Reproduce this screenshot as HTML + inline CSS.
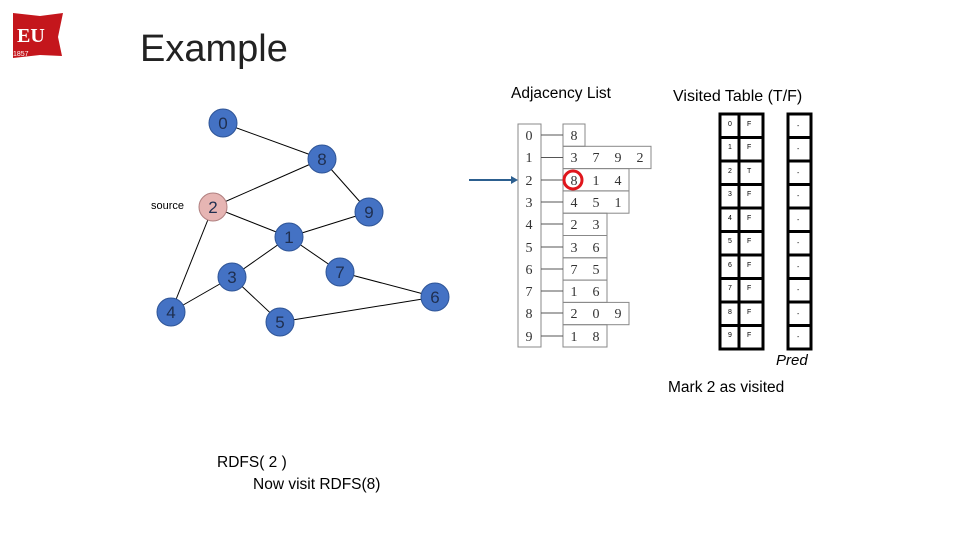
<!DOCTYPE html>
<html><head><meta charset="utf-8"><style>
body{margin:0;width:960px;height:540px;background:#fff;overflow:hidden;font-family:"Liberation Sans",sans-serif}
</style></head><body>
<svg width="960" height="540" viewBox="0 0 960 540" xmlns="http://www.w3.org/2000/svg">
<path d="M13 13 L40 16 L63 13 L58 37 L62 56 L40 55 L13 58 Z" fill="#c4161c"/>
<text x="17" y="42" font-family="Liberation Serif" font-weight="bold" font-size="20" fill="#fff">EU</text>
<text x="13" y="56" font-size="7" fill="#fff">1857</text>
<text x="140" y="61" font-family="Liberation Sans" font-size="38" fill="#222">Example</text>

<g stroke="#000" stroke-width="1">
<line x1="223" y1="123" x2="322" y2="159"/>
<line x1="322" y1="159" x2="213" y2="207"/>
<line x1="322" y1="159" x2="369" y2="212"/>
<line x1="213" y1="207" x2="289" y2="237"/>
<line x1="289" y1="237" x2="369" y2="212"/>
<line x1="213" y1="207" x2="171" y2="312"/>
<line x1="289" y1="237" x2="232" y2="277"/>
<line x1="289" y1="237" x2="340" y2="272"/>
<line x1="340" y1="272" x2="435" y2="297"/>
<line x1="232" y1="277" x2="171" y2="312"/>
<line x1="232" y1="277" x2="280" y2="322"/>
<line x1="280" y1="322" x2="435" y2="297"/>
</g>
<g stroke="#2f5597" stroke-width="1" fill="#4472c4">
<circle cx="223" cy="123" r="14"/><circle cx="322" cy="159" r="14"/>
<circle cx="369" cy="212" r="14"/><circle cx="289" cy="237" r="14"/>
<circle cx="232" cy="277" r="14"/><circle cx="340" cy="272" r="14"/>
<circle cx="435" cy="297" r="14"/><circle cx="171" cy="312" r="14"/>
<circle cx="280" cy="322" r="14"/>
<circle cx="213" cy="207" r="14" fill="#e6b5b3" stroke="#b08080"/>
</g>
<g font-size="17" text-anchor="middle" fill="#1f2f50">
<text x="223" y="129">0</text><text x="322" y="165">8</text><text x="213" y="213">2</text>
<text x="369" y="218">9</text><text x="289" y="243">1</text><text x="232" y="283">3</text>
<text x="340" y="278">7</text><text x="435" y="303">6</text><text x="171" y="318">4</text>
<text x="280" y="328">5</text>
</g>
<text x="151" y="209" font-size="11">source</text>

<text x="511" y="98" font-size="15.5">Adjacency List</text>
<text x="673" y="101" font-size="16">Visited Table (T/F)</text>

<g stroke="#888" stroke-width="1" fill="none">
<rect x="518" y="124" width="23" height="223"/>
<rect x="563" y="124" width="22" height="22.3"/>
<rect x="563" y="146.3" width="88" height="22.3"/>
<rect x="563" y="168.6" width="66" height="22.3"/>
<rect x="563" y="190.9" width="66" height="22.3"/>
<rect x="563" y="213.2" width="44" height="22.3"/>
<rect x="563" y="235.5" width="44" height="22.3"/>
<rect x="563" y="257.8" width="44" height="22.3"/>
<rect x="563" y="280.1" width="44" height="22.3"/>
<rect x="563" y="302.4" width="66" height="22.3"/>
<rect x="563" y="324.7" width="44" height="22.3"/>
</g>
<g stroke="#555" stroke-width="1">
<line x1="541" y1="135" x2="563" y2="135"/><line x1="541" y1="157.5" x2="563" y2="157.5"/>
<line x1="541" y1="180" x2="563" y2="180"/><line x1="541" y1="202" x2="563" y2="202"/>
<line x1="541" y1="224" x2="563" y2="224"/><line x1="541" y1="247" x2="563" y2="247"/>
<line x1="541" y1="269" x2="563" y2="269"/><line x1="541" y1="291" x2="563" y2="291"/>
<line x1="541" y1="313" x2="563" y2="313"/><line x1="541" y1="336" x2="563" y2="336"/>
</g>
<g font-family="Liberation Serif" font-size="14" fill="#333" text-anchor="middle">
<text x="529" y="140">0</text><text x="529" y="162">1</text><text x="529" y="185">2</text>
<text x="529" y="207">3</text><text x="529" y="229">4</text><text x="529" y="252">5</text>
<text x="529" y="274">6</text><text x="529" y="296">7</text><text x="529" y="318">8</text>
<text x="529" y="341">9</text>
<text x="574" y="140">8</text>
<text x="574" y="162">3</text><text x="596" y="162">7</text><text x="618" y="162">9</text><text x="640" y="162">2</text>
<text x="574" y="185">8</text><text x="596" y="185">1</text><text x="618" y="185">4</text>
<text x="574" y="207">4</text><text x="596" y="207">5</text><text x="618" y="207">1</text>
<text x="574" y="229">2</text><text x="596" y="229">3</text>
<text x="574" y="252">3</text><text x="596" y="252">6</text>
<text x="574" y="274">7</text><text x="596" y="274">5</text>
<text x="574" y="296">1</text><text x="596" y="296">6</text>
<text x="574" y="318">2</text><text x="596" y="318">0</text><text x="618" y="318">9</text>
<text x="574" y="341">1</text><text x="596" y="341">8</text>
</g>
<circle cx="573" cy="180" r="9" fill="none" stroke="#e0161c" stroke-width="3"/>
<line x1="469" y1="180" x2="512" y2="180" stroke="#2c5f8f" stroke-width="2"/>
<polygon points="511,176 518,180 511,184" fill="#2c5f8f"/>

<g stroke="#000" stroke-width="3" fill="none">
<rect x="720" y="114" width="43" height="235"/>
<line x1="739" y1="114" x2="739" y2="349"/>
<rect x="788" y="114" width="23" height="235"/>
<path d="M720 137.5H763M720 161H763M720 184.5H763M720 208H763M720 231.5H763M720 255H763M720 278.5H763M720 302H763M720 325.5H763"/>
<path d="M788 137.5H811M788 161H811M788 184.5H811M788 208H811M788 231.5H811M788 255H811M788 278.5H811M788 302H811M788 325.5H811"/>
</g>
<g font-size="7" fill="#000">
<text x="728" y="126">0</text><text x="747" y="126">F</text><text x="797" y="128">-</text>
<text x="728" y="149">1</text><text x="747" y="149">F</text><text x="797" y="151">-</text>
<text x="728" y="173">2</text><text x="747" y="173">T</text><text x="797" y="175">-</text>
<text x="728" y="196">3</text><text x="747" y="196">F</text><text x="797" y="198">-</text>
<text x="728" y="220">4</text><text x="747" y="220">F</text><text x="797" y="222">-</text>
<text x="728" y="243">5</text><text x="747" y="243">F</text><text x="797" y="245">-</text>
<text x="728" y="267">6</text><text x="747" y="267">F</text><text x="797" y="269">-</text>
<text x="728" y="290">7</text><text x="747" y="290">F</text><text x="797" y="292">-</text>
<text x="728" y="314">8</text><text x="747" y="314">F</text><text x="797" y="316">-</text>
<text x="728" y="337">9</text><text x="747" y="337">F</text><text x="797" y="339">-</text>
</g>
<text x="776" y="365" font-size="15" font-style="italic">Pred</text>
<text x="668" y="392" font-size="15.5">Mark 2 as visited</text>
<text x="217" y="467" font-size="15.5">RDFS( 2 )</text>
<text x="253" y="489" font-size="15.5">Now visit RDFS(8)</text>
</svg>
</body></html>
